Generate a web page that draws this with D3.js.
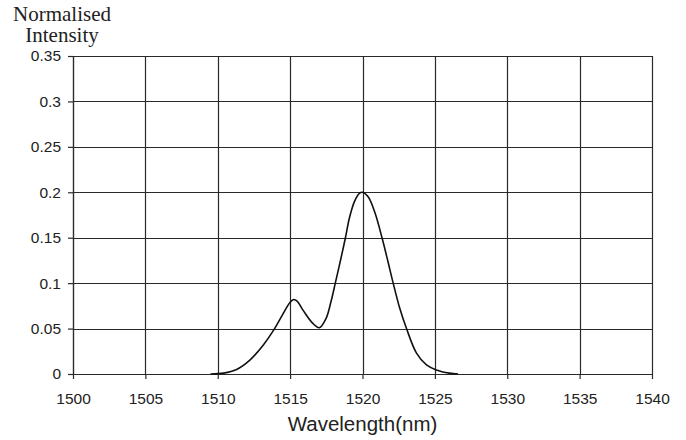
<!DOCTYPE html>
<html>
<head>
<meta charset="utf-8">
<script src="https://cdn.jsdelivr.net/npm/d3@7"></script>
<style>
  body { margin: 0; background: #fff; }
  svg { display: block; }
</style>
</head>
<body>
<div id="chart"></div>
<script>
// ---------- Data ----------
const wavelength = [1509.5, 1510.4, 1511.3, 1512.2, 1513.15, 1513.85, 1514.5, 1515.0, 1515.25, 1515.5,
  1515.9, 1516.55, 1517.02, 1517.48, 1517.83, 1518.12, 1518.52, 1518.82, 1519.1, 1519.45,
  1519.8, 1520.0, 1520.39, 1520.85, 1521.38, 1521.77, 1522.12, 1522.58, 1523.04, 1523.73,
  1524.42, 1525.1, 1526.0, 1526.6];
const intensity = [0, 0.001, 0.005, 0.015, 0.032, 0.048, 0.066, 0.079, 0.082, 0.080,
  0.070, 0.056, 0.051, 0.061, 0.080, 0.100, 0.128, 0.150, 0.172, 0.190,
  0.199, 0.200, 0.195, 0.178, 0.148, 0.123, 0.100, 0.072, 0.050, 0.023,
  0.010, 0.0045, 0.001, 0];
const xTicks = [1500, 1505, 1510, 1515, 1520, 1525, 1530, 1535, 1540];
const yTicks = [0, 0.05, 0.1, 0.15, 0.2, 0.25, 0.3, 0.35];
const yTickLabels = ["0", "0.05", "0.1", "0.15", "0.2", "0.25", "0.3", "0.35"];

// ---------- Layout ----------
const W = 686, H = 440;
const margin = { top: 56, right: 34, bottom: 66, left: 73 };
const width = W - margin.left - margin.right;
const height = H - margin.top - margin.bottom;

const svg = d3.select("#chart").append("svg")
  .attr("width", W)
  .attr("height", H);

const g = svg.append("g")
  .attr("transform", `translate(${margin.left},${margin.top})`);

// ---------- Scales ----------
const x = d3.scaleLinear().domain([1500, 1540]).range([0, width]);
const y = d3.scaleLinear().domain([0, 0.35]).range([height, 0]);

const gridColor = "#2a2a2a";

// ---------- Grid ----------
g.append("g").selectAll("line")
  .data(xTicks)
  .join("line")
  .attr("x1", d => Math.round(x(d)) + 0.5)
  .attr("x2", d => Math.round(x(d)) + 0.5)
  .attr("y1", 0)
  .attr("y2", height)
  .attr("stroke", gridColor)
  .attr("stroke-width", 1.2);

g.append("g").selectAll("line")
  .data(yTicks)
  .join("line")
  .attr("x1", 0)
  .attr("x2", width)
  .attr("y1", d => Math.round(y(d)) + 0.5)
  .attr("y2", d => Math.round(y(d)) + 0.5)
  .attr("stroke", gridColor)
  .attr("stroke-width", 1.2);

// ---------- Axes ----------
const xAxis = g.append("g")
  .attr("transform", `translate(0,${height})`)
  .call(d3.axisBottom(x).tickValues(xTicks).tickFormat(d3.format("d")).tickSize(5).tickSizeOuter(0).tickPadding(14));

const yAxis = g.append("g")
  .call(d3.axisLeft(y).tickValues(yTicks).tickFormat((d, i) => yTickLabels[i]).tickSize(5).tickSizeOuter(0).tickPadding(7));

[xAxis, yAxis].forEach(ax => {
  ax.select(".domain").attr("stroke", gridColor).attr("stroke-width", 1.2);
  ax.selectAll(".tick line").attr("stroke", gridColor).attr("stroke-width", 1.2);
  ax.selectAll(".tick text")
    .attr("fill", "#222")
    .style("font-family", "'Liberation Sans', Arial, sans-serif")
    .style("font-size", "15.5px");
});

// ---------- Curve ----------
const pts = wavelength.map((w, i) => [w, intensity[i]]);
const line = d3.line()
  .x(d => x(d[0]))
  .y(d => Math.min(y(0), y(d[1])))
  .curve(d3.curveCatmullRom.alpha(0.5));

g.append("path")
  .datum(pts)
  .attr("fill", "none")
  .attr("stroke", "#111")
  .attr("stroke-width", 1.6)
  .attr("d", line);

// ---------- Labels ----------
svg.append("text")
  .attr("x", margin.left + width / 2)
  .attr("y", 431)
  .attr("text-anchor", "middle")
  .attr("fill", "#222")
  .style("font-family", "'Liberation Sans', Arial, sans-serif")
  .style("font-size", "20.5px")
  .text("Wavelength(nm)");

const yTitle = svg.append("text")
  .attr("text-anchor", "middle")
  .attr("fill", "#222")
  .style("font-family", "'Liberation Serif', 'Times New Roman', serif")
  .style("font-size", "21px");
yTitle.append("tspan").attr("x", 62).attr("y", 21).text("Normalised");
yTitle.append("tspan").attr("x", 62).attr("y", 42).text("Intensity");
</script>
</body>
</html>
